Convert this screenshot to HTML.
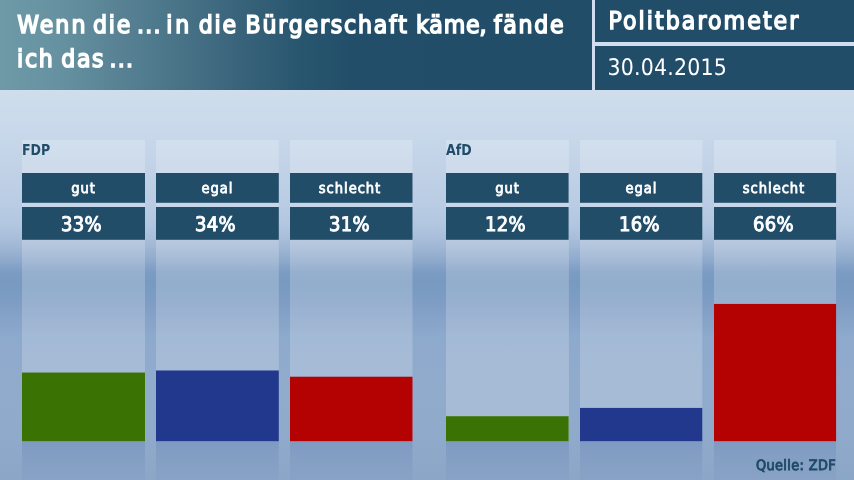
<!DOCTYPE html>
<html lang="de">
<head>
<meta charset="utf-8">
<title>Politbarometer</title>
<style>
html,body{margin:0;padding:0;}
body{width:854px;height:480px;overflow:hidden;position:relative;font-family:"DejaVu Sans Condensed","Liberation Sans",sans-serif;
background:linear-gradient(to bottom,#cfddec 0px,#cfddec 90px,#c9d9eb 130px,#c1d2e7 170px,#b9cce3 205px,#b2c6e0 225px,#a2b9d6 245px,#8faacc 260px,#7c9cc3 272px,#789ac0 282px,#7a9bc2 292px,#829fc6 310px,#8da9cc 336px,#91abcd 380px,#90aacb 430px,#8ca6c7 480px);}
.abs{position:absolute;}
#hdr{left:0;top:0;width:592px;height:90px;background:linear-gradient(to right,#6e9aa8 0px,#6591a0 60px,#588294 120px,#487387 180px,#38637a 240px,#29566f 300px,#224e69 352px,#224d69 592px);}
.ttl{left:17px;color:#fff;font-weight:normal;-webkit-text-stroke:1.5px #fff;text-rendering:geometricPrecision;font-size:24.5px;line-height:34px;letter-spacing:1.8px;white-space:nowrap;}
#vdiv{left:592px;top:0;width:3px;height:90px;background:#d0def0;}
#r1{left:595px;top:0;width:259px;height:42px;background:#224d69;}
#hdiv{left:595px;top:42px;width:259px;height:4px;background:#d0def0;}
#r2{left:595px;top:46px;width:259px;height:44px;background:#224d69;}
#pb{left:608.5px;top:6px;color:#fff;font-family:"DejaVu Sans Condensed","Liberation Sans",sans-serif;font-weight:normal;-webkit-text-stroke:1.35px #fff;text-rendering:geometricPrecision;font-size:24.6px;letter-spacing:2.05px;line-height:30px;white-space:nowrap;}
#dt{left:607.5px;top:53px;color:#fff;font-weight:normal;text-rendering:geometricPrecision;font-size:22.8px;letter-spacing:0.2px;line-height:30px;white-space:nowrap;}
.lab{top:173px;box-sizing:border-box;padding-right:0px;width:123px;height:30px;color:#fff;font-weight:normal;-webkit-text-stroke:0.75px #fff;font-size:14.6px;line-height:31px;letter-spacing:0.95px;text-align:center;text-rendering:geometricPrecision;}
.val{top:207px;box-sizing:border-box;padding-right:4px;width:123px;height:33px;color:#fff;font-weight:normal;-webkit-text-stroke:0.9px #fff;font-size:20px;line-height:34px;letter-spacing:0.4px;text-align:center;text-rendering:geometricPrecision;}
.party{top:141px;color:#224d69;font-weight:bold;font-size:15px;line-height:18px;text-rendering:geometricPrecision;transform:scaleX(0.93);transform-origin:0 0;}
.w{position:absolute;top:0;}
#src{right:18px;top:458px;color:#1f4a65;font-weight:normal;-webkit-text-stroke:0.85px #1f4a65;font-size:14.3px;letter-spacing:0.38px;line-height:16px;text-rendering:geometricPrecision;}
</style>
</head>
<body>
<div class="abs" id="hdr"></div>
<div class="abs ttl" style="top:8px;left:0"><span class="w" style="left:17.2px;letter-spacing:2.1px">Wenn</span> <span class="w" style="left:93.0px;">die</span> <span class="w" style="left:137.0px;letter-spacing:1.2px">...</span> <span class="w" style="left:166.3px;letter-spacing:2.8px">in</span> <span class="w" style="left:198.8px;">die</span> <span class="w" style="left:245.6px;">Bürgerschaft</span> <span class="w" style="left:416.0px;letter-spacing:0.9px">käme</span><span class="w" style="left:479.5px">,</span> <span class="w" style="left:493.7px;">fände</span></div>
<div class="abs ttl" style="top:42px;left:0"><span class="w" style="left:17px">ich</span> <span class="w" style="left:61.3px;letter-spacing:1.6px">das</span> <span class="w" style="left:109.5px;letter-spacing:1.2px">...</span></div>
<div class="abs" id="vdiv"></div>
<div class="abs" id="r1"></div>
<div class="abs" id="hdiv"></div>
<div class="abs" id="r2"></div>
<div class="abs" id="pb">Politbarometer</div>
<div class="abs" id="dt">30.04.2015</div>
<svg class="abs" style="left:0;top:0" width="854" height="480" viewBox="0 0 854 480">
<defs><linearGradient id="rf" x1="0" y1="0" x2="0" y2="1"><stop offset="0" stop-color="#5a78af" stop-opacity="0.30"/><stop offset="1" stop-color="#6482b4" stop-opacity="0.10"/></linearGradient></defs>
<rect x="22" y="140" width="123" height="301.2" fill="#fff" fill-opacity="0.2"/>
<rect x="22" y="441.2" width="123" height="38.8" fill="url(#rf)"/>
<rect x="22" y="173" width="123" height="29.8" fill="#224d69"/>
<rect x="22" y="207" width="123" height="32.8" fill="#224d69"/>
<rect x="22" y="372.56" width="123" height="68.64" fill="#3a7304"/>
<rect x="156" y="140" width="122.8" height="301.2" fill="#fff" fill-opacity="0.2"/>
<rect x="156" y="441.2" width="122.8" height="38.8" fill="url(#rf)"/>
<rect x="156" y="173" width="122.8" height="29.8" fill="#224d69"/>
<rect x="156" y="207" width="122.8" height="32.8" fill="#224d69"/>
<rect x="156" y="370.48" width="122.8" height="70.72" fill="#21388c"/>
<rect x="290" y="140" width="122.5" height="301.2" fill="#fff" fill-opacity="0.2"/>
<rect x="290" y="441.2" width="122.5" height="38.8" fill="url(#rf)"/>
<rect x="290" y="173" width="122.5" height="29.8" fill="#224d69"/>
<rect x="290" y="207" width="122.5" height="32.8" fill="#224d69"/>
<rect x="290" y="376.72" width="122.5" height="64.48" fill="#b40202"/>
<rect x="446" y="140" width="122.9" height="301.2" fill="#fff" fill-opacity="0.2"/>
<rect x="446" y="441.2" width="122.9" height="38.8" fill="url(#rf)"/>
<rect x="446" y="173" width="122.6" height="29.8" fill="#224d69"/>
<rect x="446" y="207" width="122.6" height="32.8" fill="#224d69"/>
<rect x="446" y="416.24" width="122.6" height="24.96" fill="#3a7304"/>
<rect x="580" y="140" width="122.3" height="301.2" fill="#fff" fill-opacity="0.2"/>
<rect x="580" y="441.2" width="122.3" height="38.8" fill="url(#rf)"/>
<rect x="580" y="173" width="122.3" height="29.8" fill="#224d69"/>
<rect x="580" y="207" width="122.3" height="32.8" fill="#224d69"/>
<rect x="580" y="407.92" width="122.3" height="33.28" fill="#21388c"/>
<rect x="714" y="140" width="122.1" height="301.2" fill="#fff" fill-opacity="0.2"/>
<rect x="714" y="441.2" width="122.1" height="38.8" fill="url(#rf)"/>
<rect x="714" y="173" width="122.1" height="29.8" fill="#224d69"/>
<rect x="714" y="207" width="122.1" height="32.8" fill="#224d69"/>
<rect x="714" y="303.92" width="122.1" height="137.28" fill="#b40202"/>
</svg>
<div class="abs party" style="left:22px">FDP</div>
<div class="abs party" style="left:446px">AfD</div>
<div class="abs lab" style="left:22px">gut</div>
<div class="abs lab" style="left:156px">egal</div>
<div class="abs lab" style="left:290px;padding-right:3px">schlecht</div>
<div class="abs lab" style="left:446px">gut</div>
<div class="abs lab" style="left:580px">egal</div>
<div class="abs lab" style="left:714px;padding-right:3px">schlecht</div>
<div class="abs val" style="left:22px">33%</div>
<div class="abs val" style="left:156px">34%</div>
<div class="abs val" style="left:290px">31%</div>
<div class="abs val" style="left:446px">12%</div>
<div class="abs val" style="left:580px">16%</div>
<div class="abs val" style="left:714px">66%</div>
<div class="abs" id="src">Quelle: ZDF</div>
</body>
</html>
